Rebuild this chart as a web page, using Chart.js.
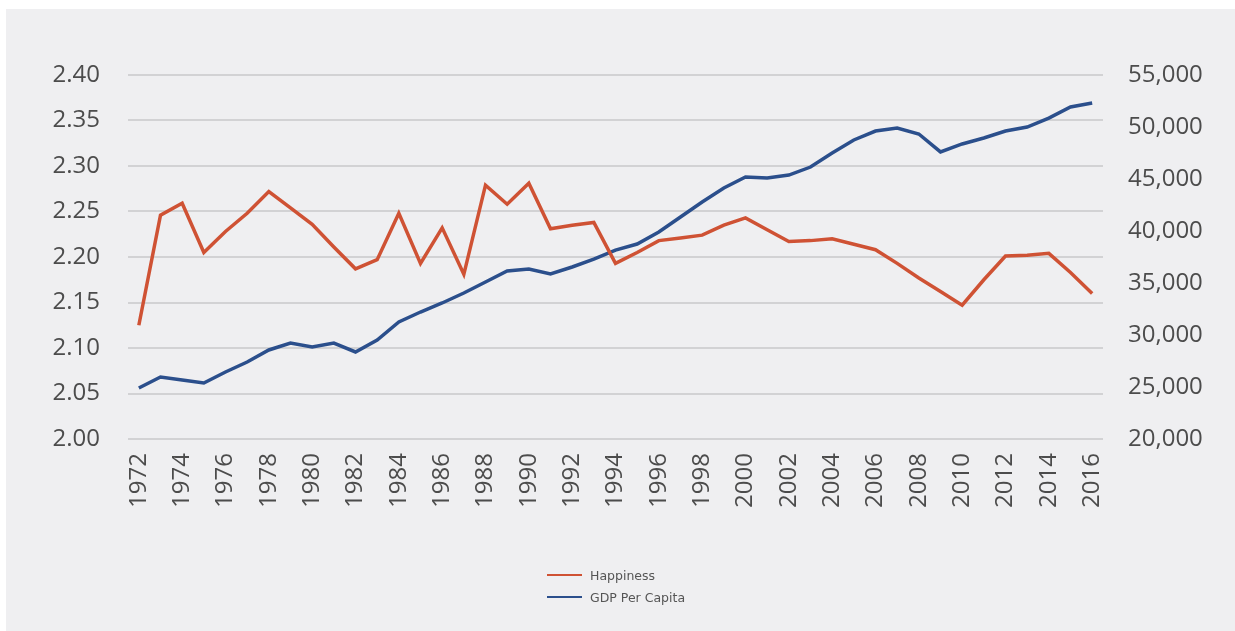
<!DOCTYPE html>
<html>
<head>
<meta charset="utf-8">
<script src="https://cdn.jsdelivr.net/npm/chart.js@4/dist/chart.umd.min.js"></script>
<style>
  html, body { margin: 0; padding: 0; background: #fff; }
  #panel { position: absolute; left: 6px; top: 9px; width: 1229px; height: 622px; background: #efeff1; }
  #chart-canvas { position: absolute; left: 0; top: 0; }
  #legend { position: absolute; left: 547px; top: 564px; font-family: "DejaVu Sans", sans-serif; font-size: 12.5px; color: #555; }
  #legend .item { display: flex; align-items: center; height: 22px; }
  #legend .swatch { width: 35px; height: 2px; margin-right: 8px; }
</style>
</head>
<body>
<div id="panel"></div>
<canvas id="chart-canvas" width="1235" height="631"></canvas>
<div id="legend"></div>
<script>
const chart = document.getElementById("chart-canvas");

// Years on the x axis
let years = [];
for (let y = 1972; y <= 2016; y++) years.push(String(y));

// Average happiness score (left axis)
let happiness = [
  2.125, 2.246, 2.259, 2.205, 2.228, 2.248, 2.272, 2.254, 2.236, 2.211,
  2.187, 2.197, 2.248, 2.193, 2.232, 2.181, 2.279, 2.258, 2.281, 2.231,
  2.235, 2.238, 2.193, 2.205, 2.218, 2.221, 2.224, 2.235, 2.243, 2.230,
  2.217, 2.218, 2.220, 2.214, 2.208, 2.193, 2.177, 2.162, 2.147, 2.175,
  2.201, 2.202, 2.204, 2.183, 2.160
];

// GDP per capita in dollars (right axis)
let gdpPerCapita = [
  24900, 25960, 25670, 25380, 26440, 27400, 28560, 29230, 28850, 29230,
  28370, 29520, 31250, 32210, 33080, 34040, 35100, 36150, 36350, 35870,
  36540, 37300, 38170, 38750, 39900, 41350, 42790, 44130, 45190, 45100,
  45380, 46150, 47500, 48750, 49610, 49900, 49330, 47600, 48370, 48940,
  49610, 50000, 50860, 51920, 52300
];

let seriesLabels = ["Happiness", "GDP Per Capita"];
let seriesColors = ["#cf5234", "#2b4f8c"];
// ======================

const tickFont = { family: "'Open Sans', sans-serif", size: 24 };
const tickColor = "#4c4c4c";

const chartData = {
  labels: years,
  datasets: [{
    label: seriesLabels[0],
    data: happiness,
    yAxisID: "y",
    borderColor: seriesColors[0],
    backgroundColor: seriesColors[0],
    borderWidth: 3.5,
    pointRadius: 0,
    tension: 0
  },
  {
    label: seriesLabels[1],
    data: gdpPerCapita,
    yAxisID: "y1",
    borderColor: seriesColors[1],
    backgroundColor: seriesColors[1],
    borderWidth: 3.5,
    pointRadius: 0,
    tension: 0
  }
  ]
};

const options = {
  responsive: false,
  animation: false,
  layout: {
    padding: { top: 75, bottom: 112, left: 0, right: 0 }
  },
  plugins: {
    legend: false,
    tooltip: { enabled: false }
  },
  scales: {
    x: {
      offset: true,
      grid: { display: false, drawTicks: false },
      border: { display: false },
      afterFit: (scale) => { scale.height = 80; },
      ticks: {
        autoSkip: false,
        minRotation: 90,
        maxRotation: 90,
        padding: 14,
        color: tickColor,
        font: tickFont,
        callback: function (value, index) {
          return index % 2 === 0 ? this.getLabelForValue(value) : "";
        }
      }
    },
    y: {
      position: "left",
      min: 2.0,
      max: 2.4,
      grid: { color: "#d2d2d4", lineWidth: 2, drawTicks: false },
      border: { display: false },
      afterFit: (scale) => { scale.width = 128; },
      ticks: {
        stepSize: 0.05,
        padding: 28,
        color: tickColor,
        font: tickFont,
        callback: (v) => v.toFixed(2)
      }
    },
    y1: {
      position: "right",
      min: 20000,
      max: 55000,
      grid: { display: false, drawTicks: false },
      border: { display: false },
      afterFit: (scale) => { scale.width = 132; },
      ticks: {
        stepSize: 5000,
        padding: 25,
        color: tickColor,
        font: tickFont,
        callback: (v) => v.toLocaleString("en-US")
      }
    }
  }
};

const config = {
  type: "line",
  data: chartData,
  options: options
};

const lineChart = new Chart(chart, config);

// stacked legend below the plot, built from the datasets
const legendBox = document.getElementById("legend");
lineChart.data.datasets.forEach((ds) => {
  const item = document.createElement("div");
  item.className = "item";
  const swatch = document.createElement("span");
  swatch.className = "swatch";
  swatch.style.background = ds.borderColor;
  const text = document.createElement("span");
  text.textContent = ds.label;
  item.appendChild(swatch);
  item.appendChild(text);
  legendBox.appendChild(item);
});
</script>
</body>
</html>
